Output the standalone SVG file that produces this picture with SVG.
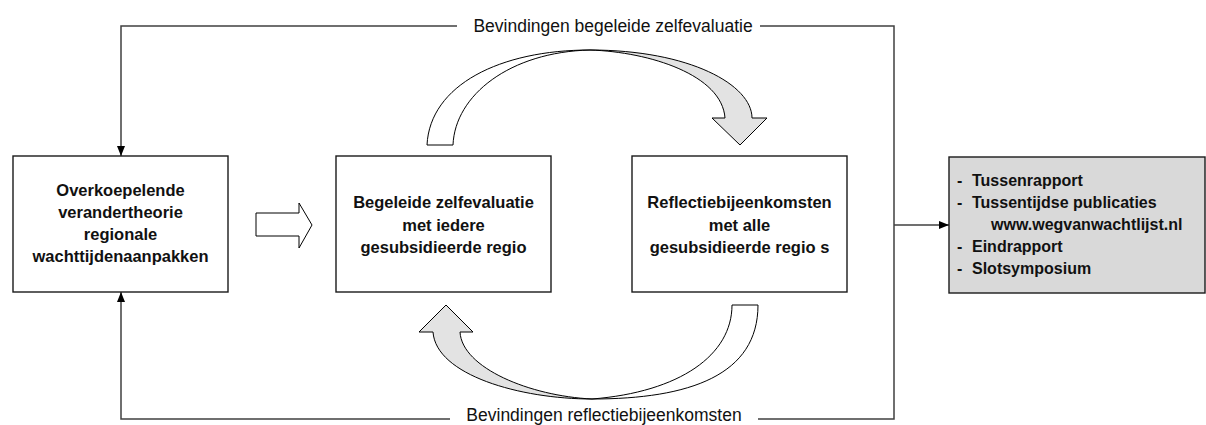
<svg xmlns="http://www.w3.org/2000/svg" width="1206" height="425" viewBox="0 0 1206 425">
  <style>
    .box { fill: #ffffff; stroke: #1a1a1a; stroke-width: 1.4; }
    .out { fill: #d9d9d9; stroke: #1a1a1a; stroke-width: 1.4; }
    .lbl { font-family: "Liberation Sans", Arial, sans-serif; font-weight: bold; font-size: 16.5px; fill: #111; text-anchor: middle; }
    .lst { font-family: "Liberation Sans", Arial, sans-serif; font-weight: bold; font-size: 16px; fill: #111; }
    .fb { fill: none; stroke: #404040; stroke-width: 1.5; }
    .cap { font-family: "Liberation Sans", Arial, sans-serif; font-size: 17.5px; fill: #111; text-anchor: middle; }
    .band { stroke: #000; stroke-width: 1; stroke-linejoin: miter; }
  </style>
  <defs>
    <marker id="tip" viewBox="0 0 10 8" refX="10" refY="4" markerWidth="10" markerHeight="8" markerUnits="userSpaceOnUse" orient="auto">
      <path d="M0,0 L10,4 L0,8 Z" fill="#000"/>
    </marker>
  </defs>

  <!-- feedback loops and flow arrows -->
  <g id="connectors">
    <!-- top loop: findings of guided self-evaluation -->
    <path class="fb" d="M457,26 H121 V156" marker-end="url(#tip)"/>
    <path class="fb" d="M760,26 H894 V419 H758"/>
    <!-- bottom loop: findings of reflection meetings -->
    <path class="fb" d="M450,419 H121 V292" marker-end="url(#tip)"/>
    <!-- branch to the outputs -->
    <path class="fb" d="M894,225 H949" marker-end="url(#tip)"/>
    <text class="cap" x="613" y="31.5">Bevindingen begeleide zelfevaluatie</text>
    <text class="cap" x="604" y="420.5">Bevindingen reflectiebijeenkomsten</text>

    <!-- block arrow from theory to self-evaluation -->
    <path class="band" fill="#fff" d="M256,213 H299 V203 L312,225 L299,248 V236 H256 Z"/>

    <!-- curved arrow over the top -->
    <path class="band" fill="#fff" d="M427,145 C430,85 500,50 590,50 C510,52 455,95 453,145 Z"/>
    <path class="band" fill="#e3e3e3" d="M590,50 C690,50 752,85 752,118 L767,118 L740,145 L712,118 L725,118 C722,75 650,52 590,50 Z"/>

    <!-- curved arrow underneath -->
    <path class="band" fill="#fff" d="M592,399 C690,399 758,375 758,305 L732,305 C732,355 680,392 592,399 Z"/>
    <path class="band" fill="#e3e3e3" d="M592,399 C520,399 436,375 433,332 L419,332 L446,305 L473,332 L460,332 C462,368 530,396 592,399 Z"/>
  </g>

  <g id="theory">
    <rect class="box" x="13" y="156" width="215" height="136"/>
    <text class="lbl" x="120.5" y="196">Overkoepelende</text>
    <text class="lbl" x="120.5" y="218">verandertheorie</text>
    <text class="lbl" x="120.5" y="240">regionale</text>
    <text class="lbl" x="120.5" y="262">wachttijdenaanpakken</text>
  </g>

  <g id="self-evaluation">
    <rect class="box" x="336" y="156" width="215" height="136"/>
    <text class="lbl" x="443.5" y="208">Begeleide zelfevaluatie</text>
    <text class="lbl" x="443.5" y="230.5">met  iedere</text>
    <text class="lbl" x="443.5" y="253">gesubsidieerde  regio</text>
  </g>

  <g id="reflection">
    <rect class="box" x="632" y="156" width="215" height="136"/>
    <text class="lbl" x="739.5" y="208">Reflectiebijeenkomsten</text>
    <text class="lbl" x="739.5" y="230.5">met  alle</text>
    <text class="lbl" x="739.5" y="253">gesubsidieerde  regio s</text>
  </g>

  <g id="outputs">
    <rect class="out" x="949" y="157" width="256" height="136"/>
    <text class="lst" x="957" y="186">-</text>
    <text class="lst" x="972" y="186">Tussenrapport</text>
    <text class="lst" x="957" y="208">-</text>
    <text class="lst" x="972" y="208">Tussentijdse publicaties</text>
    <text class="lst" x="991" y="230">www.wegvanwachtlijst.nl</text>
    <text class="lst" x="957" y="252">-</text>
    <text class="lst" x="972" y="252">Eindrapport</text>
    <text class="lst" x="957" y="274">-</text>
    <text class="lst" x="972" y="274">Slotsymposium</text>
  </g>
</svg>
